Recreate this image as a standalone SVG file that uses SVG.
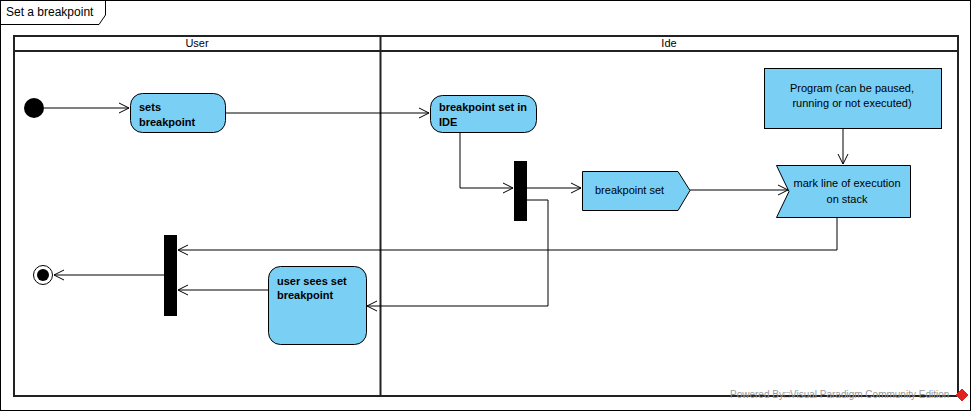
<svg xmlns="http://www.w3.org/2000/svg" width="974" height="412" viewBox="0 0 974 412">
<style>
text{font-family:"Liberation Sans",Arial,sans-serif;font-size:11px;fill:#000}
.b{font-weight:bold}
.act{fill:#7ACFF5;stroke:#000;stroke-width:1}
.lane{fill:none;stroke:#222;stroke-width:2}
.c{fill:none;stroke:#000;stroke-width:1}
.bar{fill:#000}
</style>
<defs>
<marker id="a" markerUnits="userSpaceOnUse" markerWidth="12" markerHeight="12" refX="11" refY="6" orient="auto">
<path d="M1,1 L11,6 L1,11" fill="none" stroke="#000" stroke-width="1"/>
</marker>
</defs>
<rect x="0.5" y="0.5" width="970" height="410" fill="#fff" stroke="#000"/>
<g id="frame-title">
<path d="M0.5,24.5 H99 L105.5,15 V0.5" fill="none" stroke="#000"/>
<text x="6" y="16" style="font-size:12px">Set a breakpoint</text>
</g>
<g id="lanes">
<rect class="lane" x="14" y="36" width="944" height="360"/>
<line class="lane" x1="14" y1="51" x2="958" y2="51"/>
<line class="lane" x1="380.5" y1="36" x2="380.5" y2="396"/>
<text x="197" y="47" text-anchor="middle">User</text>
<text x="669" y="47" text-anchor="middle">Ide</text>
</g>
<g id="connectors">
<path class="c" d="M44,108 H129" marker-end="url(#a)"/>
<path class="c" d="M225,113 H429" marker-end="url(#a)"/>
<path class="c" d="M460,132 V188 H513" marker-end="url(#a)"/>
<path class="c" d="M527,188 H581" marker-end="url(#a)"/>
<path class="c" d="M527,200 H548 V306 H367" marker-end="url(#a)"/>
<path class="c" d="M690,190 H788" marker-end="url(#a)"/>
<path class="c" d="M843,128 V164" marker-end="url(#a)"/>
<path class="c" d="M837,217 V250 H178" marker-end="url(#a)"/>
<path class="c" d="M268,290 H178" marker-end="url(#a)"/>
<path class="c" d="M164,275 H54" marker-end="url(#a)"/>
</g>
<g id="initial"><circle cx="34" cy="108" r="10" fill="#000"/></g>
<g id="sets-breakpoint">
<rect class="act" x="130.5" y="93.5" width="95" height="39" rx="12"/>
<text class="b" x="139" y="111">sets</text>
<text class="b" x="139" y="126">breakpoint</text>
</g>
<g id="breakpoint-set-in-ide">
<rect class="act" x="430.5" y="95.5" width="106" height="37" rx="12"/>
<text class="b" x="439" y="111">breakpoint set in</text>
<text class="b" x="439" y="126">IDE</text>
</g>
<g id="fork"><rect class="bar" x="514" y="161" width="13" height="60"/></g>
<g id="breakpoint-set">
<path class="act" d="M582.5,171.5 H678 L690,190.5 L678,210.5 H582.5 Z"/>
<text x="595" y="194">breakpoint set</text>
</g>
<g id="program">
<rect class="act" x="764.5" y="68.5" width="177" height="60"/>
<text x="852" y="92" text-anchor="middle">Program (can be paused,</text>
<text x="852" y="107" text-anchor="middle">running or not executed)</text>
</g>
<g id="mark-line">
<path class="act" d="M776.5,165.5 H910.5 V217.5 H776.5 L789,191.5 Z"/>
<text x="847" y="187" text-anchor="middle">mark line of execution</text>
<text x="847" y="203" text-anchor="middle">on stack</text>
</g>
<g id="join"><rect class="bar" x="164" y="235" width="13" height="81"/></g>
<g id="user-sees">
<rect class="act" x="268.5" y="266.5" width="98" height="78" rx="12"/>
<text class="b" x="277" y="285">user sees set</text>
<text class="b" x="277" y="299">breakpoint</text>
</g>
<g id="final">
<circle cx="43" cy="275" r="9.5" fill="#fff" stroke="#000"/>
<circle cx="43" cy="275" r="6" fill="#000"/>
</g>
<g id="watermark">
<text x="730" y="398" style="font-size:10px;fill:#999">Powered By□Visual Paradigm Community Edition</text>
<path d="M962,389 L968,395 L962,401 L956,395 Z" fill="#d22" stroke="#d22"/>
</g>
</svg>
